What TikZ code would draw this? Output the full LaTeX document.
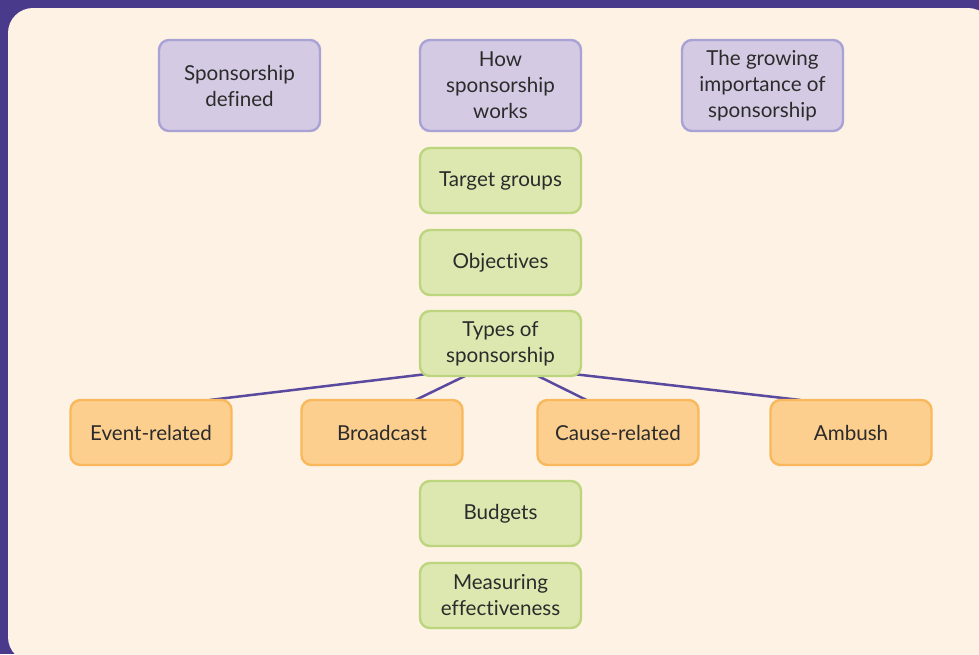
\documentclass[tikz,border=0pt]{standalone}
\usepackage{fontspec}
\setmainfont[Ligatures=NoCommon]{Lato}
\usepackage{tikz}
\usetikzlibrary{positioning,backgrounds,calc}
\usepackage{xcolor}

\definecolor{frame}{HTML}{493A8C}
\definecolor{paper}{HTML}{FDF2E3}
\definecolor{lilacfill}{HTML}{D4CAE3}
\definecolor{lilacline}{HTML}{A9A2D5}
\definecolor{greenfill}{HTML}{DDE8B0}
\definecolor{greenline}{HTML}{BDD57F}
\definecolor{orangefill}{HTML}{FCCF8F}
\definecolor{orangeline}{HTML}{F9B85C}
\definecolor{linkcol}{HTML}{594A9F}
\definecolor{ink}{HTML}{2B2B2B}

\begin{document}
\begin{tikzpicture}[
  base/.style={draw, rounded corners=5pt, line width=1.2pt, minimum width=80.5pt,
    align=center, text=ink, font=\fontsize{10.3}{13}\selectfont, inner sep=2pt,
    outer sep=0pt},
  topic/.style={base, fill=lilacfill, draw=lilacline, minimum height=45.5pt},
  sub/.style={base, fill=greenfill, draw=greenline, minimum height=32.5pt},
  kind/.style={base, fill=orangefill, draw=orangeline, minimum height=32.5pt},
  link/.style={draw=linkcol, line width=1.25pt}
]
  \useasboundingbox (0,0) rectangle (489.5pt,-327pt);
  \clip (0,0) rectangle (489.5pt,-327pt);

  \node[topic] (how) at (250.25pt,-42.75pt) {How\\ sponsorship\\ works};
  \node[topic, left=50pt of how] (defined) {Sponsorship\\ defined};
  \node[topic, right=50.5pt of how] (growing) {The growing\\ importance of\\ sponsorship};

  \node[sub, below=8.5pt of how] (target) {Target groups};
  \node[sub, below=8.5pt of target] (objectives) {Objectives};
  \node[sub, below=8pt of objectives] (types) {Types of\\ sponsorship};

  \node[kind, below=12pt of types, xshift=-59.25pt] (broadcast) {Broadcast};
  \node[kind, below=12pt of types, xshift=58.75pt] (cause) {Cause-related};
  \node[kind, left=35pt of broadcast] (event) {Event-related};
  \node[kind, right=36pt of cause] (ambush) {Ambush};

  \node[sub, below=52.5pt of types] (budgets) {Budgets};
  \node[sub, below=8.5pt of budgets] (measuring) {Measuring\\ effectiveness};

  \begin{scope}[on background layer]
    \fill[frame] (0,0) rectangle (489.5pt,-327pt);
    \fill[paper, rounded corners=12.5pt] (4pt,-4pt) rectangle (496.5pt,-331pt);
    % links from the types box to the four kinds
    \draw[link] ($(types.south west)+(3.5pt,1pt)$) -- ($(event.north east)+(-11pt,0)$);
    \draw[link] ($(types.south west)+(22.5pt,0)$) -- ($(broadcast.north east)+(-23.5pt,0)$);
    \draw[link] ($(types.south east)+(-21.5pt,0)$) -- ($(cause.north west)+(24.5pt,0)$);
    \draw[link] ($(types.south east)+(-4pt,1pt)$) -- ($(ambush.north west)+(15pt,0)$);
  \end{scope}
\end{tikzpicture}
\end{document}
